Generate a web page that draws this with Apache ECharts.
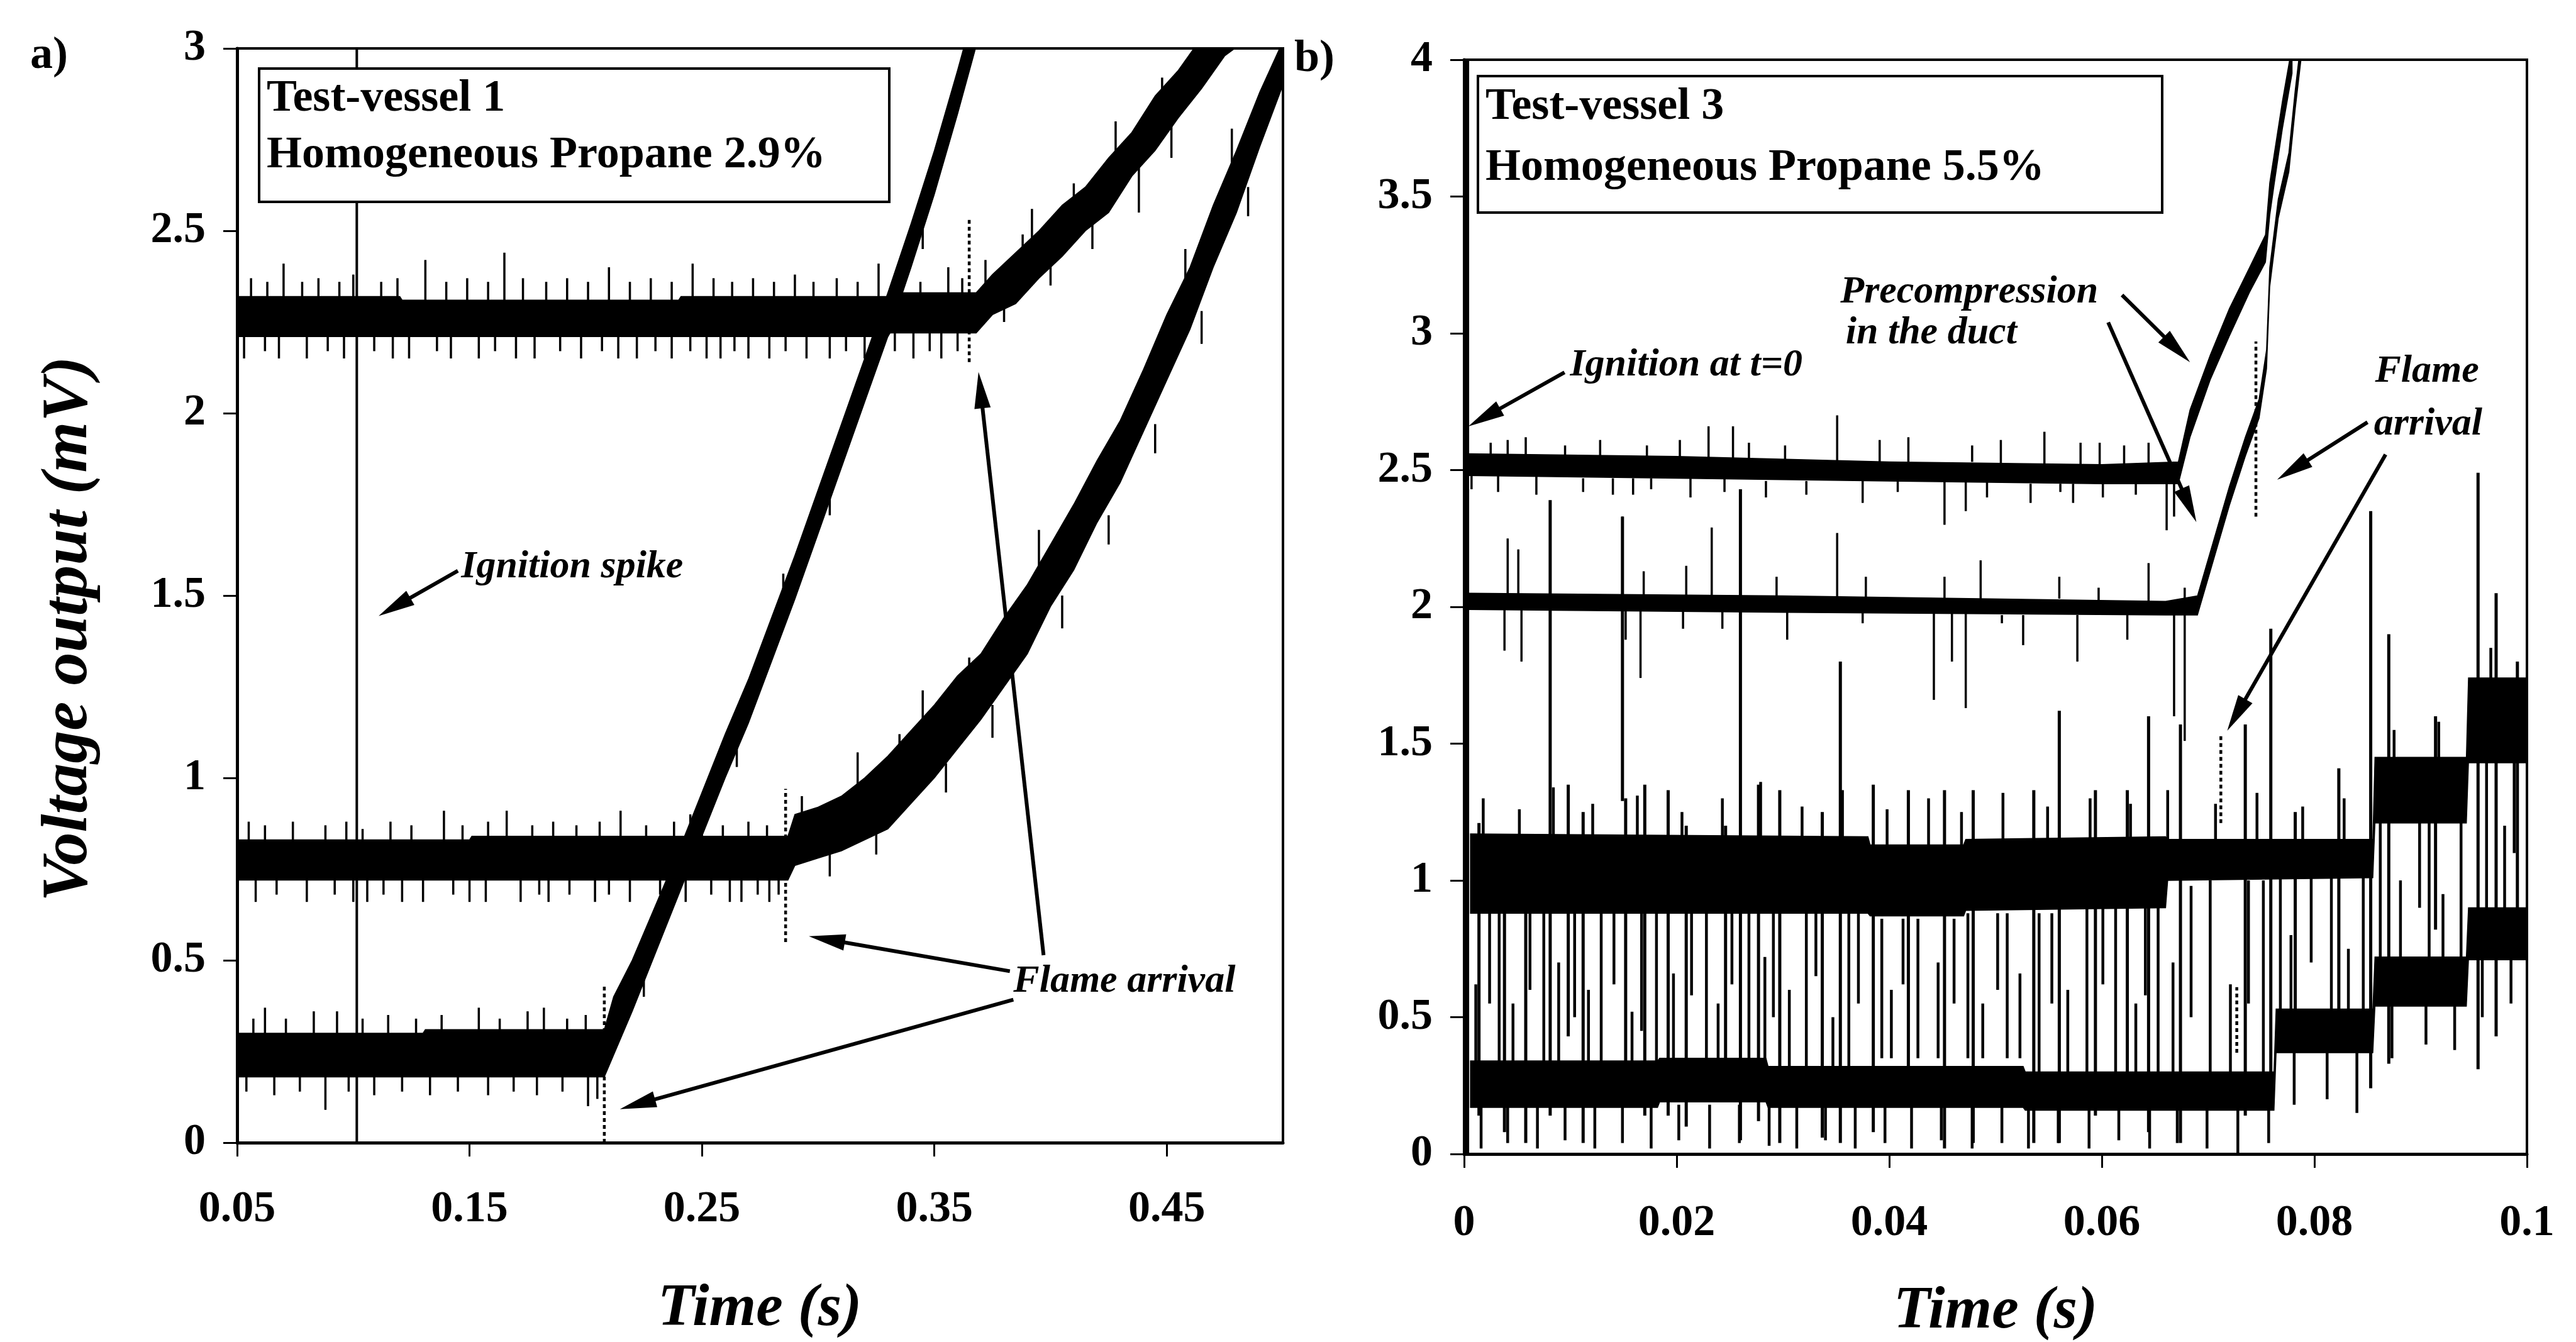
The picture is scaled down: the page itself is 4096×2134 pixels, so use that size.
<!DOCTYPE html>
<html>
<head>
<meta charset="utf-8">
<script src="https://cdn.jsdelivr.net/npm/echarts@6/dist/echarts.min.js"></script>
<style>
  html, body { margin: 0; padding: 0; background: #fff; }
  #main { width: 4096px; height: 2134px; }
</style>
</head>
<body>
<div id="main"></div>
<script>
// ---------- Panel a: test-vessel 1, homogeneous propane 2.9% ----------
// Tick labels on the time axis
const aTimeTicks = [0.05, 0.15, 0.25, 0.35, 0.45];

// Signal traces as noise bands: [time (s), lower edge (mV), upper edge (mV)]
const a1Band = [[0.050,2.21,2.32],[0.120,2.21,2.32],[0.121,2.21,2.31],[0.240,2.21,2.31],[0.241,2.21,2.32],[0.330,2.21,2.32],[0.331,2.22,2.33],[0.368,2.22,2.33],[0.375,2.27,2.38],[0.385,2.30,2.44],[0.395,2.37,2.50],[0.405,2.43,2.57],[0.415,2.50,2.62],[0.425,2.55,2.70],[0.435,2.65,2.77],[0.445,2.72,2.87],[0.455,2.81,2.94],[0.465,2.89,3.03],[0.475,2.98,3.10],[0.490,3.05,3.20]];
const a2Band = [[0.050,0.72,0.83],[0.150,0.72,0.83],[0.151,0.72,0.84],[0.287,0.72,0.84],[0.290,0.76,0.90],[0.300,0.78,0.92],[0.310,0.80,0.95],[0.320,0.83,1.00],[0.330,0.86,1.06],[0.340,0.93,1.13],[0.350,1.00,1.20],[0.360,1.08,1.28],[0.370,1.16,1.34],[0.380,1.25,1.44],[0.390,1.34,1.53],[0.400,1.47,1.64],[0.410,1.57,1.75],[0.420,1.70,1.87],[0.430,1.81,1.98],[0.440,1.95,2.12],[0.450,2.09,2.27],[0.460,2.23,2.40],[0.470,2.40,2.57],[0.480,2.55,2.72],[0.490,2.73,2.88],[0.500,2.90,3.02]];
const a3Band = [[0.050,0.18,0.30],[0.130,0.18,0.30],[0.131,0.18,0.31],[0.208,0.18,0.31],[0.212,0.24,0.40],[0.220,0.36,0.50],[0.230,0.52,0.65],[0.240,0.68,0.80],[0.250,0.84,0.96],[0.260,1.00,1.12],[0.270,1.15,1.27],[0.280,1.32,1.44],[0.290,1.49,1.61],[0.300,1.67,1.79],[0.310,1.85,1.97],[0.320,2.03,2.15],[0.330,2.21,2.33],[0.340,2.40,2.52],[0.350,2.60,2.72],[0.360,2.82,2.94],[0.366,2.96,3.08],[0.372,3.10,3.22]];

// Noise spikes: [time, from, to]
const a1Spikes = [[0.056,2.31,2.37],[0.063,2.31,2.36],[0.070,2.31,2.41],[0.078,2.31,2.36],[0.085,2.31,2.37],[0.094,2.31,2.36],[0.100,2.31,2.38],[0.112,2.31,2.36],[0.119,2.31,2.37],[0.131,2.31,2.42],[0.140,2.31,2.36],[0.149,2.31,2.37],[0.158,2.31,2.36],[0.165,2.31,2.44],[0.173,2.31,2.37],[0.183,2.31,2.36],[0.192,2.31,2.37],[0.201,2.31,2.36],[0.210,2.31,2.40],[0.219,2.31,2.36],[0.228,2.31,2.37],[0.237,2.31,2.36],[0.246,2.31,2.41],[0.255,2.31,2.37],[0.263,2.31,2.36],[0.272,2.31,2.37],[0.281,2.31,2.36],[0.290,2.31,2.38],[0.298,2.31,2.36],[0.308,2.31,2.37],[0.317,2.31,2.36],[0.326,2.31,2.41],[0.335,2.32,2.37],[0.344,2.32,2.36],[0.356,2.32,2.40],[0.362,2.32,2.37],
  [0.053,2.15,2.21],[0.062,2.17,2.21],[0.068,2.15,2.21],[0.080,2.15,2.21],[0.089,2.17,2.21],[0.096,2.15,2.21],[0.109,2.17,2.21],[0.117,2.15,2.21],[0.124,2.15,2.21],[0.136,2.17,2.21],[0.142,2.15,2.21],[0.154,2.15,2.21],[0.161,2.17,2.21],[0.170,2.15,2.21],[0.178,2.15,2.21],[0.189,2.17,2.21],[0.198,2.15,2.21],[0.207,2.17,2.21],[0.214,2.15,2.21],[0.222,2.15,2.21],[0.230,2.17,2.21],[0.237,2.15,2.21],[0.245,2.17,2.21],[0.252,2.15,2.21],[0.258,2.15,2.21],[0.264,2.17,2.21],[0.270,2.15,2.21],[0.279,2.15,2.21],[0.286,2.17,2.21],[0.295,2.15,2.21],[0.305,2.15,2.21],[0.312,2.17,2.21],[0.320,2.15,2.21],[0.333,2.17,2.22],[0.341,2.15,2.22],[0.348,2.17,2.22],[0.353,2.15,2.22],[0.360,2.17,2.22],
  [0.372,2.33,2.42],[0.380,2.25,2.34],[0.388,2.40,2.49],[0.392,2.45,2.56],[0.400,2.35,2.44],[0.410,2.54,2.63],[0.418,2.45,2.53],[0.428,2.63,2.80],[0.438,2.55,2.68],[0.448,2.82,2.92],[0.452,2.70,2.80],[0.460,2.90,2.98]];
const a2Spikes = [[0.055,0.83,0.88],[0.062,0.83,0.87],[0.074,0.83,0.88],[0.088,0.83,0.87],[0.097,0.83,0.88],[0.104,0.83,0.86],[0.116,0.83,0.88],[0.125,0.83,0.87],[0.139,0.83,0.91],[0.147,0.83,0.87],[0.158,0.83,0.88],[0.166,0.83,0.91],[0.177,0.83,0.87],[0.186,0.83,0.88],[0.196,0.83,0.87],[0.206,0.83,0.88],[0.215,0.83,0.91],[0.226,0.83,0.87],[0.238,0.83,0.88],[0.250,0.83,0.88],[0.259,0.83,0.87],[0.270,0.83,0.88],[0.278,0.83,0.87],
  [0.058,0.66,0.72],[0.067,0.68,0.72],[0.080,0.66,0.72],[0.092,0.68,0.72],[0.100,0.66,0.72],[0.106,0.66,0.72],[0.113,0.68,0.72],[0.121,0.66,0.72],[0.130,0.66,0.72],[0.143,0.68,0.72],[0.150,0.66,0.72],[0.157,0.66,0.72],[0.172,0.66,0.72],[0.180,0.68,0.72],[0.184,0.66,0.72],[0.193,0.68,0.72],[0.204,0.66,0.72],[0.210,0.68,0.72],[0.219,0.66,0.72],[0.232,0.68,0.72],[0.243,0.66,0.72],[0.254,0.68,0.72],[0.262,0.66,0.72],[0.267,0.66,0.72],[0.274,0.68,0.72],[0.279,0.66,0.72],[0.283,0.68,0.72],
  [0.293,0.88,0.95],[0.305,0.73,0.80],[0.317,0.95,1.07],[0.325,0.79,0.86],[0.335,1.03,1.12],[0.345,1.10,1.24],[0.355,0.96,1.04],[0.365,1.24,1.33],[0.375,1.11,1.20],[0.385,1.36,1.46],[0.395,1.55,1.68],[0.405,1.41,1.50],[0.415,1.70,1.80],[0.425,1.64,1.72],[0.435,1.94,2.04],[0.445,1.89,1.97],[0.458,2.30,2.45],[0.465,2.19,2.28],[0.478,2.68,2.78],[0.485,2.54,2.62]];
const a3Spikes = [[0.057,0.30,0.34],[0.062,0.30,0.37],[0.071,0.30,0.34],[0.083,0.30,0.36],[0.093,0.30,0.36],[0.104,0.30,0.34],[0.115,0.30,0.35],[0.127,0.30,0.34],[0.138,0.30,0.35],[0.154,0.30,0.37],[0.163,0.30,0.34],[0.175,0.30,0.36],[0.182,0.30,0.37],[0.192,0.30,0.34],[0.200,0.30,0.35],
  [0.054,0.14,0.18],[0.066,0.13,0.18],[0.077,0.14,0.18],[0.088,0.09,0.18],[0.098,0.14,0.18],[0.109,0.13,0.18],[0.121,0.14,0.18],[0.133,0.13,0.18],[0.145,0.14,0.18],[0.158,0.13,0.18],[0.169,0.14,0.18],[0.179,0.13,0.18],[0.190,0.14,0.18],[0.201,0.10,0.18],[0.205,0.12,0.18],
  [0.225,0.40,0.46],[0.245,0.83,0.90],[0.265,1.03,1.10],[0.285,1.48,1.56],[0.305,1.72,1.78],[0.325,2.19,2.27],[0.345,2.45,2.52]];
// Flame-arrival markers (dotted) and the ignition spike
const aFlameMarks = [[0.208,0.00,0.43],[0.286,0.55,0.97],[0.365,2.14,2.53]];
const aIgnition = [[0.1015,0.00,3.00]];
// Callout arrows: [from time, from mV, to time, to mV]
const aArrows = [[0.145,1.568,0.1109,1.444],[0.3825,0.470,0.296,0.566],[0.384,0.392,0.2147,0.092],[0.397,0.514,0.369,2.113]];

// ---------- Panel b: test-vessel 3, homogeneous propane 5.5% ----------
const b1Band = [[0.0004,2.48,2.56],[0.020,2.47,2.55],[0.040,2.46,2.53],[0.060,2.45,2.52],[0.0672,2.45,2.53],[0.0683,2.62,2.72],[0.0702,2.83,2.92],[0.0720,2.99,3.09],[0.0739,3.15,3.24],[0.0754,3.26,3.36],[0.0758,3.43,3.55],[0.0762,3.54,3.65],[0.0770,3.75,3.85],[0.0779,3.95,4.05]];
const b2Band = [[0.0004,1.99,2.05],[0.030,1.98,2.04],[0.066,1.97,2.02],[0.0690,1.97,2.04],[0.0705,2.17,2.24],[0.0720,2.37,2.44],[0.0735,2.55,2.62],[0.0748,2.69,2.76],[0.0755,2.87,2.94],[0.0758,3.17,3.24],[0.0766,3.42,3.49],[0.0776,3.59,3.66],[0.0782,3.82,3.89],[0.0788,4.02,4.09]];
const b3Band = [[0.0006,0.88,1.17],[0.0380,0.88,1.16],[0.0382,0.87,1.13],[0.0470,0.87,1.13],[0.0472,0.89,1.15],[0.0660,0.90,1.16],[0.0662,1.00,1.15],[0.0855,1.01,1.15],[0.0857,1.21,1.45],[0.0943,1.21,1.45],[0.0945,1.43,1.74],[0.1000,1.43,1.74]];
const b4Band = [[0.0006,0.17,0.34],[0.0182,0.17,0.34],[0.0184,0.19,0.35],[0.0284,0.19,0.35],[0.0286,0.17,0.32],[0.0526,0.17,0.32],[0.0528,0.16,0.30],[0.0762,0.16,0.30],[0.0764,0.37,0.53],[0.0855,0.37,0.53],[0.0857,0.54,0.72],[0.0943,0.54,0.72],[0.0945,0.71,0.90],[0.1000,0.71,0.90]];

const b1Spikes = [[0.0041,2.54,2.61],[0.0058,2.54,2.62],[0.0025,2.54,2.60],[0.0095,2.54,2.59],[0.0128,2.54,2.61],[0.0172,2.54,2.59],[0.0203,2.54,2.61],[0.0230,2.54,2.66],[0.0253,2.54,2.66],[0.0268,2.54,2.60],[0.0302,2.53,2.59],[0.0351,2.53,2.70],[0.0391,2.53,2.61],[0.0418,2.53,2.62],[0.0478,2.53,2.59],[0.0505,2.52,2.61],[0.0546,2.52,2.64],[0.0580,2.52,2.60],[0.0598,2.52,2.60],[0.0621,2.52,2.59],[0.0644,2.51,2.60],
  [0.0007,2.43,2.48],[0.0032,2.42,2.48],[0.0068,2.41,2.48],[0.0112,2.42,2.47],[0.0140,2.41,2.47],[0.0159,2.41,2.47],[0.0176,2.43,2.47],[0.0213,2.40,2.47],[0.0245,2.42,2.47],[0.0284,2.40,2.46],[0.0322,2.41,2.46],[0.0375,2.38,2.47],[0.0408,2.42,2.46],[0.0452,2.30,2.46],[0.0472,2.35,2.46],[0.0492,2.40,2.46],[0.0533,2.38,2.45],[0.0561,2.42,2.45],[0.0573,2.38,2.45],[0.0601,2.40,2.45],[0.0632,2.41,2.45],[0.0661,2.28,2.45],[0.0668,2.33,2.45]];
const b2Spikes = [[0.0041,2.04,2.25],[0.0051,2.04,2.21],[0.0149,2.04,2.33],[0.0169,2.04,2.13],[0.0209,2.04,2.15],[0.0233,2.04,2.29],[0.0294,2.04,2.11],[0.0351,2.03,2.27],[0.0378,2.03,2.11],[0.0452,2.03,2.11],[0.0486,2.03,2.17],[0.0560,2.03,2.11],[0.0597,2.02,2.07],[0.0644,2.02,2.16],[0.0678,2.02,2.07],
  [0.0038,1.84,1.99],[0.0054,1.80,1.99],[0.0152,1.88,1.99],[0.0166,1.74,1.99],[0.0206,1.92,1.99],[0.0243,1.92,1.99],[0.0304,1.88,1.98],[0.0375,1.94,1.98],[0.0442,1.66,1.98],[0.0459,1.80,1.98],[0.0472,1.63,1.98],[0.0506,1.94,1.97],[0.0526,1.86,1.97],[0.0577,1.80,1.97],[0.0624,1.88,1.97],[0.0668,1.60,1.97],[0.0678,1.51,1.97]];
const bLongSpikes = [[0.0014,0.14,1.21],[0.0038,0.08,1.02],[0.0058,0.04,1.02],[0.0081,0.14,2.39],[0.0098,0.43,1.35],[0.0112,0.04,1.25],[0.0149,1.29,2.33],[0.0152,0.20,1.30],[0.0170,0.14,1.35],[0.0192,0.14,1.33],[0.0209,0.10,1.20],[0.0246,0.24,1.20],[0.0260,0.05,2.43],[0.0277,0.12,1.35],[0.0297,0.04,1.33],[0.0337,0.06,1.25],[0.0354,0.04,1.80],[0.0385,0.08,1.35],[0.0418,0.24,1.33],[0.0452,0.02,1.33],[0.0479,0.04,1.33],[0.0536,0.04,1.33],[0.0560,0.04,1.62],[0.0594,0.14,1.33],[0.0624,0.24,1.33],[0.0644,0.08,1.60],[0.0674,0.04,1.57],[0.0735,0.14,1.57],[0.0759,0.24,1.92],[0.0782,0.43,1.25],[0.0823,0.43,1.41],[0.0853,0.24,2.35],[0.0870,0.33,1.90],[0.0914,0.82,1.60],[0.0954,0.31,2.49],[0.0971,0.43,2.05],[0.0991,0.82,1.80]];
// Short strokes between and around the two lower traces
const bShortSpikes = [[0.0011,0.33,0.62],[0.0024,0.55,0.88],[0.0033,0.33,0.88],[0.0046,0.33,0.55],[0.0062,0.60,0.88],[0.0075,0.33,0.88],[0.0089,0.33,0.70],[0.0104,0.50,0.88],[0.0117,0.33,0.60],[0.0129,0.33,0.88],[0.0141,0.62,0.88],[0.0158,0.33,0.52],[0.0167,0.45,0.88],[0.0181,0.33,0.88],[0.0197,0.34,0.66],[0.0214,0.58,0.88],[0.0228,0.35,0.88],[0.0239,0.35,0.55],[0.0252,0.62,0.88],[0.0268,0.35,0.88],[0.0283,0.35,0.72],[0.0291,0.50,0.88],[0.0306,0.30,0.60],[0.0322,0.30,0.88],[0.0331,0.65,0.90],[0.0347,0.30,0.50],[0.0362,0.30,0.90],[0.0371,0.55,0.90],[0.0393,0.35,0.86],[0.0402,0.35,0.60],[0.0413,0.62,0.86],[0.0427,0.35,0.86],[0.0446,0.35,0.70],[0.0461,0.55,0.86],[0.0474,0.35,0.88],[0.0488,0.35,0.55],[0.0502,0.60,0.88],[0.0511,0.35,0.88],[0.0523,0.35,0.66],[0.0541,0.30,0.88],[0.0553,0.55,0.88],[0.0568,0.30,0.60],[0.0586,0.30,0.90],[0.0601,0.62,0.90],[0.0613,0.30,0.90],[0.0632,0.30,0.55],[0.0641,0.58,0.92],[0.0653,0.30,0.92],[0.0667,0.30,0.70],[0.0684,0.50,0.98],[0.0702,0.30,1.00],[0.0721,0.30,0.62],[0.0738,0.55,1.00],[0.0752,0.30,1.00],
  [0.0768,0.53,1.01],[0.0778,0.53,0.80],[0.0797,0.70,1.01],[0.0816,0.53,1.01],[0.0832,0.53,0.75],[0.0846,0.53,1.01],[0.0862,0.72,1.21],[0.0881,0.72,1.00],[0.0899,0.90,1.21],[0.0908,0.72,1.21],[0.0921,0.72,0.95],[0.0938,0.72,1.21],[0.0962,0.90,1.43],[0.0979,0.90,1.20],[0.0988,1.10,1.43],
  [0.0018,1.15,1.30],[0.0052,1.15,1.26],[0.0084,1.15,1.34],[0.0121,1.15,1.28],[0.0163,1.15,1.31],[0.0205,1.14,1.25],[0.0243,1.14,1.30],[0.0279,1.14,1.36],[0.0318,1.14,1.27],[0.0356,1.14,1.33],[0.0398,1.12,1.26],[0.0437,1.12,1.30],[0.0468,1.12,1.25],[0.0507,1.13,1.32],[0.0549,1.14,1.27],[0.0589,1.15,1.30],[0.0627,1.15,1.28],[0.0662,1.15,1.33],[0.0707,1.14,1.28],[0.0746,1.14,1.32],[0.0789,1.14,1.27],[0.0828,1.14,1.30],[0.0875,1.44,1.55],[0.0917,1.44,1.58],[0.0966,1.73,1.85],
  [0.0016,0.02,0.18],[0.0041,0.04,0.18],[0.0069,0.02,0.18],[0.0095,0.05,0.18],[0.0123,0.02,0.18],[0.0149,0.04,0.18],[0.0176,0.02,0.18],[0.0202,0.05,0.18],[0.0231,0.02,0.18],[0.0259,0.04,0.18],[0.0287,0.03,0.18],[0.0313,0.02,0.18],[0.0340,0.05,0.18],[0.0368,0.02,0.18],[0.0396,0.04,0.18],[0.0421,0.02,0.18],[0.0449,0.05,0.18],[0.0478,0.02,0.18],[0.0506,0.04,0.18],[0.0531,0.02,0.17],[0.0559,0.04,0.17],[0.0588,0.02,0.17],[0.0616,0.05,0.17],[0.0645,0.02,0.17],[0.0671,0.04,0.17],[0.0699,0.02,0.17],[0.0728,0.00,0.17],[0.0757,0.04,0.18],[0.0781,0.18,0.37],[0.0812,0.20,0.37],[0.0840,0.15,0.37],[0.0873,0.35,0.54],[0.0905,0.40,0.54],[0.0932,0.38,0.54],[0.0958,0.50,0.71],[0.0985,0.55,0.71]];
const bFlameMarks = [[0.0745,2.33,2.97],[0.0712,1.21,1.53],[0.0727,0.37,0.61]];
const bIgnition = [[0.0003,0.00,4.00]];
const bArrows = [[0.00945,2.857,0.0004,2.66],[0.0619,3.14,0.0683,2.894],[0.0606,3.04,0.0689,2.31],[0.085,2.675,0.0765,2.465],[0.0867,2.557,0.0718,1.547]];

// Callout texts anchored in data space: [grid, time, mV, text, alignment]
const notes = [
  [0, 0.1464, 1.577, 'Ignition spike', 'left'],
  [0, 0.384, 0.441, 'Flame arrival', 'left'],
  [1, 0.00997, 2.882, 'Ignition at t=0', 'left'],
  [1, 0.0354, 3.15, 'Precompression', 'left'],
  [1, 0.0359, 3.00, 'in the duct', 'left'],
  [1, 0.0906, 2.86, 'Flame', 'center'],
  [1, 0.0907, 2.667, 'arrival', 'center']
];

// ---------- drawing ----------
const SERIF = '"Liberation Serif", "Times New Roman", serif';

function bandSeries(gi, rows) {
  return {
    type: 'custom', xAxisIndex: gi, yAxisIndex: gi, clip: true, silent: true, z: 2,
    data: rows, encode: { x: 0, y: [1, 2] },
    renderItem: function (params, api) {
      if (params.dataIndex !== 0) return;
      const pts = [];
      for (let i = 0; i < rows.length; i++) pts.push(api.coord([rows[i][0], rows[i][1]]));
      for (let i = rows.length - 1; i >= 0; i--) pts.push(api.coord([rows[i][0], rows[i][2]]));
      return { type: 'polygon', shape: { points: pts }, style: { fill: '#000', stroke: '#000', lineWidth: 1.5 } };
    }
  };
}

function segSeries(gi, rows, width, dash) {
  return {
    type: 'custom', xAxisIndex: gi, yAxisIndex: gi, clip: true, silent: true, z: 3,
    data: rows, encode: { x: 0, y: [1, 2] },
    renderItem: function (params, api) {
      const p0 = api.coord([api.value(0), api.value(1)]);
      const p1 = api.coord([api.value(0), api.value(2)]);
      return {
        type: 'line',
        shape: { x1: p0[0], y1: p0[1], x2: p1[0], y2: p1[1] },
        style: { stroke: '#000', lineWidth: width, lineDash: dash || null }
      };
    }
  };
}

function arrowSeries(gi, rows) {
  return {
    type: 'custom', xAxisIndex: gi, yAxisIndex: gi, silent: true, z: 5,
    data: rows, encode: { x: [0, 2], y: [1, 3] },
    renderItem: function (params, api) {
      const p0 = api.coord([api.value(0), api.value(1)]);
      const p1 = api.coord([api.value(2), api.value(3)]);
      const dx = p1[0] - p0[0], dy = p1[1] - p0[1];
      const len = Math.sqrt(dx * dx + dy * dy);
      const ux = dx / len, uy = dy / len;
      const headL = 58, headW = 13;
      const bx = p1[0] - ux * headL, by = p1[1] - uy * headL;
      return {
        type: 'group',
        children: [
          { type: 'line', shape: { x1: p0[0], y1: p0[1], x2: bx + ux * 4, y2: by + uy * 4 }, style: { stroke: '#000', lineWidth: 6 } },
          { type: 'polygon', shape: { points: [[p1[0], p1[1]], [bx - uy * headW, by + ux * headW], [bx + uy * headW, by - ux * headW]] }, style: { fill: '#000' } }
        ]
      };
    }
  };
}

const tickLabel = { color: '#000', fontFamily: SERIF, fontWeight: 'bold', fontSize: 70 };
const axisLine = { show: true, onZero: false, lineStyle: { color: '#000', width: 5 } };
const axisTick = { show: true, inside: false, length: 22, lineStyle: { color: '#000', width: 3 } };

const option = {
  animation: false,
  backgroundColor: '#fff',
  grid: [
    { left: 377, top: 77, width: 1663, height: 1740, show: true, borderColor: '#000', borderWidth: 4, backgroundColor: 'rgba(0,0,0,0)', outerBoundsMode: 'none' },
    { left: 2328, top: 95, width: 1690, height: 1740, show: true, borderColor: '#000', borderWidth: 4, backgroundColor: 'rgba(0,0,0,0)', outerBoundsMode: 'none' }
  ],
  xAxis: [
    {
      type: 'value', gridIndex: 0, min: 0.05, max: 0.5,
      axisLine: axisLine,
      axisTick: Object.assign({}, axisTick, { customValues: aTimeTicks }),
      axisLabel: Object.assign({}, tickLabel, { margin: 72, customValues: aTimeTicks }),
      splitLine: { show: false }
    },
    {
      type: 'value', gridIndex: 1, min: 0, max: 0.1, interval: 0.02,
      axisLine: axisLine, axisTick: axisTick,
      axisLabel: Object.assign({}, tickLabel, { margin: 76 }),
      splitLine: { show: false }
    }
  ],
  yAxis: [
    {
      type: 'value', gridIndex: 0, min: 0, max: 3, interval: 0.5,
      axisLine: axisLine, axisTick: axisTick,
      axisLabel: Object.assign({}, tickLabel, { margin: 50 }),
      splitLine: { show: false }
    },
    {
      type: 'value', gridIndex: 1, min: 0, max: 4, interval: 0.5,
      axisLine: axisLine, axisTick: axisTick,
      axisLabel: Object.assign({}, tickLabel, { margin: 50 }),
      splitLine: { show: false }
    }
  ],
  series: [
    segSeries(0, aIgnition, 4),
    bandSeries(0, a1Band), bandSeries(0, a2Band), bandSeries(0, a3Band),
    segSeries(0, a1Spikes, 3.5), segSeries(0, a2Spikes, 3.5), segSeries(0, a3Spikes, 3.5),
    segSeries(0, aFlameMarks, 4.5, [6, 5]),
    arrowSeries(0, aArrows),

    segSeries(1, bIgnition, 6),
    bandSeries(1, b1Band), bandSeries(1, b2Band), bandSeries(1, b3Band), bandSeries(1, b4Band),
    segSeries(1, b1Spikes, 3.5), segSeries(1, b2Spikes, 3.5),
    segSeries(1, bLongSpikes, 5), segSeries(1, bShortSpikes, 4.5),
    segSeries(1, bFlameMarks, 4.5, [6, 5]),
    arrowSeries(1, bArrows)
  ]
};

const chart = echarts.init(document.getElementById('main'));
chart.setOption(option);

// Page furniture: panel letters, axis titles, caption boxes
const boldText = 'bold 72px ' + SERIF;
const titleFont = 'italic bold 96px ' + SERIF;
const noteFont = 'italic bold 62px ' + SERIF;

function txt(x, y, text, font, align, rot) {
  return {
    type: 'text', x: x, y: y, rotation: rot || 0, z: 120, silent: true,
    style: { text: text, font: font, fill: '#000', align: align || 'left', verticalAlign: 'middle', textAlign: align || 'left', textVerticalAlign: 'middle' }
  };
}

const graphics = [
  txt(48, 89, 'a)', boldText, 'left'),
  txt(2058, 94, 'b)', boldText, 'left'),
  txt(110, 1000, 'Voltage output (mV)', 'italic bold 104px ' + SERIF, 'center', Math.PI / 2),
  txt(1208, 2082, 'Time (s)', titleFont, 'center'),
  txt(3173, 2086, 'Time (s)', titleFont, 'center'),
  { type: 'rect', z: 110, silent: true, shape: { x: 412, y: 109, width: 1002, height: 212 }, style: { fill: '#fff', stroke: '#000', lineWidth: 4 } },
  txt(424, 157, 'Test-vessel 1', boldText, 'left'),
  txt(424, 247, 'Homogeneous Propane 2.9%', boldText, 'left'),
  { type: 'rect', z: 110, silent: true, shape: { x: 2350, y: 121, width: 1088, height: 217 }, style: { fill: '#fff', stroke: '#000', lineWidth: 4 } },
  txt(2362, 170, 'Test-vessel 3', boldText, 'left'),
  txt(2362, 267, 'Homogeneous Propane 5.5%', boldText, 'left')
];

notes.forEach(function (n) {
  const p = chart.convertToPixel({ gridIndex: n[0] }, [n[1], n[2]]);
  graphics.push(txt(p[0], p[1], n[3], noteFont, n[4]));
});

chart.setOption({ graphic: graphics });
</script>
</body>
</html>
